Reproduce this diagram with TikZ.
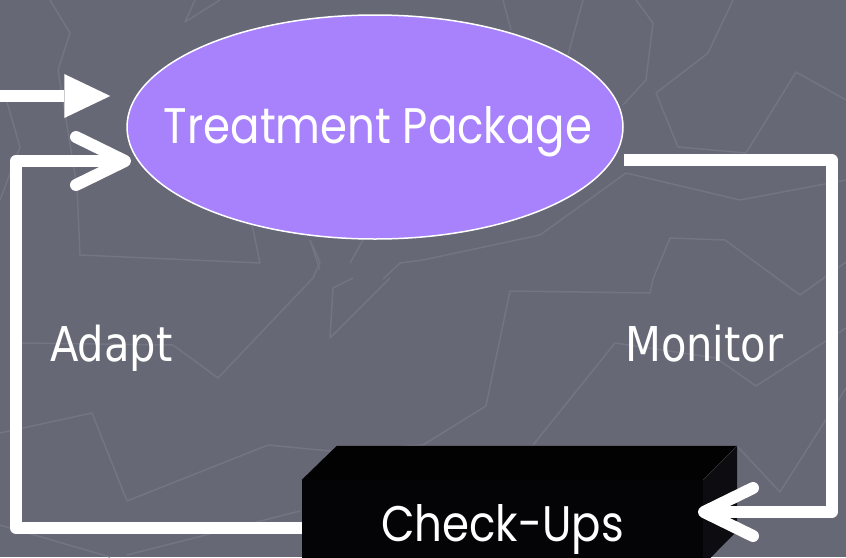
\documentclass[tikz,border=0pt]{standalone}
\usepackage{fontspec}
\usetikzlibrary{shapes.geometric,arrows.meta}
\newfontfamily\handfont[FakeStretch=0.87]{Poppins}
\newfontfamily\labelfont[FakeStretch=0.867]{DejaVu Sans}
\definecolor{slate}{RGB}{102,104,117}
\definecolor{slateline}{RGB}{115,118,130}
\definecolor{lilac}{RGB}{168,130,252}
\definecolor{boxfront}{RGB}{4,4,6}
\definecolor{boxside}{RGB}{12,12,17}
\definecolor{boxtop}{RGB}{2,2,3}
\begin{document}
\begin{tikzpicture}[x=1pt,y=-1pt,
  bgline/.style={draw=slateline, line width=1.5pt, line join=round},
  flow/.style={draw=white, line width=12pt, line join=round},
  handtext/.style={text=white, font=\handfont\fontsize{50}{60}\selectfont, inner sep=0pt},
  sidelabel/.style={text=white, font=\labelfont\fontsize{48}{58}\selectfont, inner sep=0pt},
  opentip/.style={-{Straight Barb[length=49pt,width=48pt,round]}},
  solidtip/.style={-{Triangle[length=46pt,width=44pt,line width=0pt 0]}}]

% canvas
\clip (0,0) rectangle (846,557);
\fill[slate] (0,0) rectangle (846,557);

% faint zigzag texture
\draw[bgline] (50,0) -- (70,33) -- (58,70) -- (77,187) -- (80,255) -- (260,263) -- (250,215);
\draw[bgline] (195,0) -- (185,22) -- (220,0);
\draw[bgline] (0,200) -- (20,147) -- (5,95);
\draw[bgline] (310,240) -- (320,270);
\draw[bgline] (350,263) -- (367,233);
\draw[bgline] (383,279) -- (400,263) -- (423,260) -- (540,235) -- (626,173) -- (740,200) -- (846,180);
\draw[bgline] (503,0) -- (511,30);
\draw[bgline] (583,0) -- (568,55);
\draw[bgline] (636,0) -- (653,23) -- (646,80) -- (623,105);
\draw[bgline] (733,0) -- (708,53) -- (656,93) -- (678,147) -- (746,153) -- (796,72) -- (846,100);
\draw[bgline] (0,433) -- (92,413) -- (127,501) -- (268,445) -- (330,451) -- (423,445) -- (486,406) -- (510,291) -- (650,293) -- (653,279) -- (670,238) -- (725,240) -- (800,295) -- (846,262);
\draw[bgline] (533,445) -- (615,343) -- (716,358) -- (756,386) -- (846,328);
\draw[bgline] (737,446) -- (780,492) -- (846,388);
\draw[bgline] (22,343) -- (173,345) -- (218,378) -- (313,278) -- (320,262) -- (310,240);
\draw[bgline] (330,338) -- (333,288) -- (353,278);
\draw[bgline] (330,338) -- (390,278);
\draw[bgline] (0,525) -- (110,557);
\draw[bgline] (127,555) -- (300,511);

% treatment package
\node[ellipse, draw=white, line width=1.5pt, fill=lilac,
      minimum width=496pt, minimum height=224pt] (tp) at (375,127) {};
\node[handtext, anchor=base] (tplabel) at (378,143) {Treatment Package};

% check-ups block
\node[fill=boxfront, minimum width=401pt, minimum height=85pt, inner sep=0pt] (cu) at (502.5,522.5) {};
\fill[boxtop] (cu.north west) -- ++(35,-34) -- ++(400,0) -- (cu.north east) -- cycle;
\fill[boxside] (cu.north east) -- ++(34,-34) -- ++(0,85) -- (cu.south east) -- cycle;
\draw[draw=black!80!white, line width=0.6pt] (cu.north east) -- ++(34,-34);
\node[handtext, anchor=base] (culabel) at (502.5,541) {Check-Ups};

% connector end points
\coordinate (feed) at (0,96);
\coordinate (adaptTop) at (16,161);
\coordinate (adaptTip) at (131,161);
\coordinate (monCorner) at (831.5,512);
\coordinate (monTip) at (698,512);

% incoming arrow
\draw[flow, solidtip, shorten >=16pt] (feed) -- (feed -| tp.west);
% adapt loop
\draw[flow, opentip] ([yshift=-5.5pt]cu.west) -| (adaptTop) -- (adaptTip);
% monitor loop
\draw[flow, opentip] ([yshift=-33pt]tp.east) -| (monCorner) -- (monTip);

% loop labels
\node[sidelabel, anchor=base west] (adapt) at (50,361) {Adapt};
\node[sidelabel, anchor=base west] (monitor) at (625,361) {Monitor};
\end{tikzpicture}
\end{document}
